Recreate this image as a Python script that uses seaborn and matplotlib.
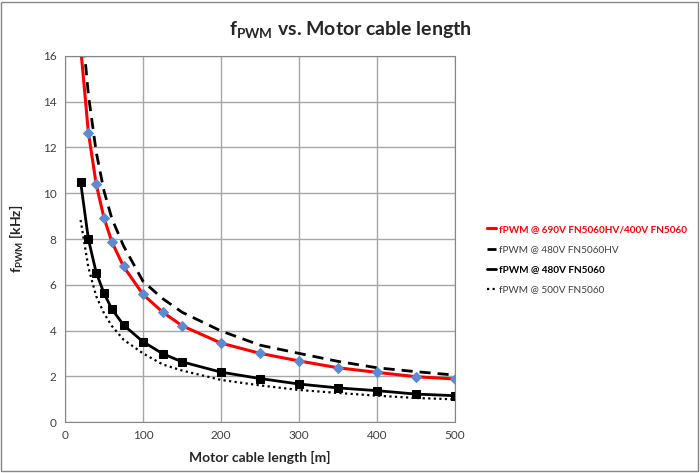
import numpy as np
import matplotlib
matplotlib.use('Agg')
import matplotlib.pyplot as plt
import seaborn as sns
import pandas as pd
from matplotlib.lines import Line2D

sns.set_style('white')
plt.rcParams['font.family'] = ['Lato', 'DejaVu Sans']
plt.rcParams['mathtext.fontset'] = 'custom'
plt.rcParams['mathtext.rm'] = 'Lato:bold'
plt.rcParams['mathtext.bf'] = 'Lato:bold'

length = [20, 30, 40, 50, 60, 75, 100, 125, 150, 200, 250, 300, 350, 400, 450, 500]
f_690 = [16.4, 12.65, 10.4, 8.92, 7.88, 6.8, 5.58, 4.81, 4.21, 3.45, 3.0, 2.67, 2.37, 2.17, 1.98, 1.88]
f_480hv = [18.0, 14.3, 11.8, 10.1, 8.9, 7.7, 6.15, 5.4, 4.8, 3.98, 3.36, 3.0, 2.65, 2.37, 2.2, 2.05]
f_480 = [10.5, 7.99, 6.53, 5.63, 4.94, 4.24, 3.51, 2.99, 2.63, 2.18, 1.9, 1.66, 1.49, 1.37, 1.22, 1.15]
f_500 = [8.83, 6.75, 5.5, 4.75, 4.2, 3.6, 3.0, 2.52, 2.25, 1.84, 1.6, 1.4, 1.27, 1.15, 1.05, 0.99]

labels = ['fPWM @ 690V FN5060HV/400V FN5060', 'fPWM @ 480V FN5060HV',
          'fPWM @ 480V FN5060', 'fPWM @ 500V FN5060']

fig = plt.figure(figsize=(7, 4.73), dpi=100)
ax = fig.add_axes([65/700, 1-422/473, 390/700, 366/473])

sns.lineplot(x=length, y=f_480hv, ax=ax, color='black', lw=2, linestyle=(0, (4, 2.5)))
sns.lineplot(x=length, y=f_500, ax=ax, color='black', lw=1.6, linestyle=(0, (1, 1.5)))
sns.lineplot(x=length, y=f_480, ax=ax, color='black', lw=2, marker='s', markersize=6,
             markeredgecolor='black')
sns.lineplot(x=length, y=f_690, ax=ax, color='#ff0000', lw=2.2, marker='D', markersize=5,
             markerfacecolor='#5b8bd0', markeredgecolor='#5b8bd0')

ax.set_xlim(0, 500)
ax.set_ylim(0, 16)
ax.set_xticks(range(0, 501, 100))
ax.set_yticks(range(0, 17, 2))
ax.grid(True, color='#a6a6a6', lw=1)
for s in ax.spines.values():
    s.set_color('#868686')
ax.tick_params(labelsize=8.5, colors='#404040', length=0, pad=6)

ax.set_xlabel('Motor cable length [m]', fontsize=10, fontweight='bold', labelpad=7)
ax.set_ylabel(r'f$_\mathrm{PWM}$ [kHz]', fontsize=10, fontweight='bold', labelpad=12)
fig.text(0.5, 0.935, r'f$_\mathrm{PWM}$ vs. Motor cable length', ha='center', va='center',
         fontsize=14, fontweight='bold')

handles = [Line2D([], [], color='#ff0000', lw=2.2),
           Line2D([], [], color='black', lw=2, linestyle=(0, (4, 2.5))),
           Line2D([], [], color='black', lw=2),
           Line2D([], [], color='black', lw=1.6, linestyle=(0, (1, 1.5)))]
leg = fig.legend(handles, labels, loc='upper left', bbox_to_anchor=(0.69, 0.533),
                 frameon=False, handlelength=0.9, handletextpad=0.3, fontsize=7.2,
                 labelspacing=1.12, borderaxespad=0)
txt = leg.get_texts()
txt[0].set_color('#ff0000'); txt[0].set_fontweight('bold')
txt[1].set_color('#404040')
txt[2].set_color('black'); txt[2].set_fontweight('bold')
txt[3].set_color('#404040')

fig.patches.append(plt.Rectangle((0.002, 0.004), 0.995, 0.992, transform=fig.transFigure,
                                 fill=False, edgecolor='#868686', lw=1))

fig.savefig('out.png', dpi=100)
